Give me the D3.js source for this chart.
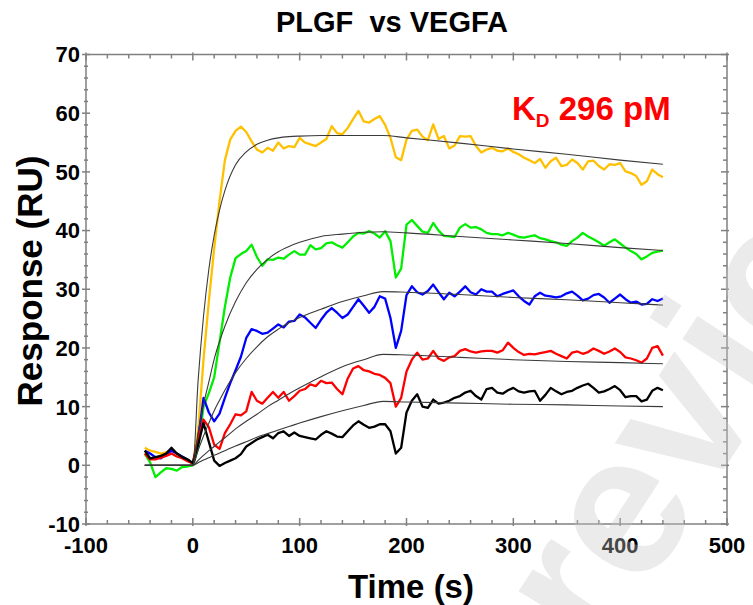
<!DOCTYPE html>
<html>
<head>
<meta charset="utf-8">
<script src="https://cdn.jsdelivr.net/npm/d3@7"></script>
<style>
  body { margin: 0; background: #fff; }
  svg { display: block; font-family: "Liberation Sans", Arial, sans-serif; }
</style>
</head>
<body>
<svg id="chart" width="753" height="605"></svg>
<script>
// sensorgram sampling times (s)
var times = [-45,-40,-35,-30,-25,-20,-15,-10,-5,0,5,10,15,20,25,30,35,40,45,50,55,60,65,70,75,80,85,90,95,100,
  105,110,115,120,125,130,135,140,145,150,155,160,165,170,175,180,185,190,195,200,205,210,215,220,225,230,235,240,245,250,
  255,260,265,270,275,280,285,290,295,300,305,310,315,320,325,330,335,340,345,350,355,360,365,370,375,380,385,390,395,400,
  405,410,415,420,425,430,435,440];

// responses (RU)
var yellowRU = [3.0,2.5,2.3,2.0,2.2,2.6,2.0,1.5,1.0,0.3,6,18,28,37,45,52,55.5,57,57.7,56.8,55.2,53.8,53.3,54.1,53.6,55.0,54.0,54.4,54.2,55.8,
  55.0,54.7,54.4,55.0,55.6,57.8,56.6,56.4,57.5,59.0,60.4,58.6,58.4,59.0,59.5,58.0,55.8,52.5,52.0,55.5,57.0,57.2,56.0,55.4,58.1,55.6,56.1,54.0,54.5,56.1,
  56.0,56.1,54.4,53.3,53.8,54.1,53.6,53.5,54.0,53.4,53.0,52.4,52.0,51.5,52.2,50.7,51.8,52.4,51.0,51.2,52.1,51.5,50.4,51.8,51.9,51.0,50.4,51.3,51.2,51.5,
  50.1,49.8,49.3,47.8,48.4,50.4,49.6,49.1];
var greenRU = [2.0,0.5,-2.0,-1.2,-0.5,-0.6,-0.9,-0.3,-0.2,0.0,3,10,12.3,15,21,27,32,35.3,36.0,36.5,37.6,35.5,34.0,35.1,35.0,35.4,35.2,35.9,36.5,35.9,
  35.9,37.5,36.8,37.0,37.8,38.0,37.5,37.1,38.0,39.0,39.6,39.5,39.9,39.5,38.8,39.9,38.2,32.0,33.5,41.0,41.8,40.8,39.8,39.6,41.3,40.0,39.1,39.0,38.9,40.5,
  41.1,40.5,40.6,40.2,39.6,39.4,39.4,39.2,39.6,39.3,38.9,38.8,39.0,39.2,38.7,38.5,38.2,38.0,37.6,37.4,38.2,38.8,39.6,39.0,38.5,38.0,37.4,38.0,38.5,37.8,
  37.1,36.5,36.0,35.1,35.6,36.2,36.4,36.6];
var blueRU = [2.5,2.0,1.4,1.2,1.8,2.5,2.0,1.5,1.0,0.3,4.5,11.5,9.0,7.5,8.8,11.5,14.0,16.2,18.5,21.7,23.2,22.9,22.4,22.6,23.3,24.0,23.5,24.5,24.6,25.7,
  25.2,24.3,23.4,24.8,26.0,26.8,26.0,25.1,25.7,27.0,28.3,27.2,26.0,27.0,28.8,28.4,25.1,20.0,22.9,29.0,30.5,29.5,29.1,29.7,30.8,29.5,28.3,29.4,28.8,29.6,
  30.5,29.5,29.1,30.0,29.6,29.6,28.8,29.2,29.5,29.8,28.8,28.0,27.4,28.8,29.4,28.9,28.8,28.6,28.8,29.3,29.6,28.9,28.1,28.4,29.0,29.2,28.6,27.7,28.4,29.1,
  28.3,27.7,27.9,27.4,27.5,28.3,28.0,28.4];
var redRU = [2.0,1.0,1.0,1.3,1.6,2.0,1.5,1.2,0.7,0.3,4.5,7.8,6.5,3.5,2.8,5.5,7.0,8.7,8.5,9.2,12.5,11.0,10.5,11.5,12.5,11.5,12.5,11.0,11.8,12.7,
  13.0,13.8,13.5,14.4,14.0,14.1,13.0,12.1,14.8,16.5,16.9,16.2,16.0,15.6,15.4,14.9,14.0,10.0,11.5,16.0,18.0,19.2,18.0,18.2,19.5,18.2,17.8,18.4,18.6,19.5,
  19.8,19.4,19.2,19.4,19.5,19.5,19.2,19.6,20.9,20.0,19.3,18.8,19.0,18.9,19.1,19.3,19.5,19.0,18.6,18.2,19.2,19.4,19.0,19.3,19.9,19.5,19.0,19.4,19.9,19.3,
  18.4,18.2,17.9,17.5,18.2,20.0,20.3,18.7];
var blackRU = [2.5,1.2,1.4,1.6,2.0,3.0,2.0,1.4,1.0,0.4,3.5,7.2,4.0,0.8,-0.1,0.4,0.8,1.2,1.9,3.2,3.8,4.4,4.8,5.2,4.6,5.5,5.8,5.0,5.6,5.0,
  4.8,4.6,4.4,5.2,5.8,5.4,4.9,4.8,5.8,6.8,7.5,6.9,6.4,6.6,7.0,7.0,5.8,2.0,3.0,9.0,11.0,12.1,10.0,9.8,11.2,10.5,10.7,11.0,11.5,11.8,
  12.4,12.7,11.8,11.2,13.0,13.2,12.4,12.2,12.8,13.2,12.6,12.4,12.6,12.7,11.0,12.0,13.2,12.6,12.1,12.5,12.7,13.2,13.6,13.9,13.2,12.4,12.6,13.0,13.5,12.8,
  11.6,11.8,11.8,10.9,11.2,12.7,13.2,12.8];

// fitted curves (1:1 model)
var fitTimes = [-45,0,5,10,15,20,25,30,40,50,60,70,80,90,100,120,140,160,178,200,250,300,350,400,440];
var yellowFit = [0,0,14.6,25.4,33.4,39.2,43.5,46.8,51.2,53.4,54.7,55.4,55.8,56.0,56.1,56.2,56.2,56.2,56.2,55.8,54.9,53.9,53.0,52.0,51.3];
var greenFit  = [0,0,5.6,10.4,14.2,18.1,21.1,23.7,27.9,31.1,33.4,35.1,36.4,37.3,38.0,39.0,39.4,39.7,39.8,39.6,39.0,38.4,37.8,37.1,36.6];
var blueFit   = [0,0,2.6,5.0,7.2,9.3,11.1,12.8,15.8,18.2,20.2,21.9,23.2,24.3,25.2,26.6,27.9,28.9,29.6,29.5,29.1,28.6,28.2,27.7,27.3];
var redFit    = [0,0,0.85,1.7,2.5,3.2,4.0,4.7,6.2,7.5,8.7,10.0,11.1,12.2,13.2,15.1,16.8,18.0,18.9,18.8,18.4,18.0,17.7,17.5,17.3];
var blackFit  = [0,0,0.45,0.9,1.3,1.7,2.1,2.5,3.3,4.0,4.8,5.4,6.0,6.6,7.2,8.3,9.3,10.2,10.9,10.8,10.6,10.4,10.3,10.1,10.0];

var xTicks = [-100,0,100,200,300,400,500];
var yTicks = [-10,0,10,20,30,40,50,60,70];

var svg = d3.select('#chart');
var x = d3.scaleLinear().domain([-100, 500]).range([86, 727]);
var y = d3.scaleLinear().domain([-10, 70]).range([524, 54.5]);

var axisColor = '#808080';

// Data curves
var series = [
  {vals: yellowRU, color: '#ffc000'},
  {vals: greenRU,  color: '#00ee00'},
  {vals: blueRU,   color: '#0000ff'},
  {vals: redRU,    color: '#ff0000'},
  {vals: blackRU,  color: '#000000'}
];
var line = d3.line().x(function(d){ return x(d[0]); }).y(function(d){ return y(d[1]); });

series.forEach(function(s){
  svg.append('path')
    .attr('d', line(times.map(function(t, i){ return [t, s.vals[i]]; })))
    .attr('fill', 'none')
    .attr('stroke', s.color)
    .attr('stroke-width', 2.3)
    .attr('stroke-linejoin', 'round');
});

// Fits on top
var fitLine = d3.line().curve(d3.curveMonotoneX)
  .x(function(d){ return x(d[0]); }).y(function(d){ return y(d[1]); });
[yellowFit, greenFit, blueFit, redFit, blackFit].forEach(function(f){
  svg.append('path')
    .attr('d', fitLine(fitTimes.map(function(t, i){ return [t, f[i]]; })))
    .attr('fill', 'none')
    .attr('stroke', '#3a3a3a')
    .attr('stroke-width', 1.1);
});

// Frame with ticks on all four sides
var xMinor = d3.range(-100, 501, 20), yMinor = d3.range(-10, 71, 2);
var frame = svg.append('g').attr('stroke', axisColor).attr('stroke-width', 1.5);
frame.append('rect')
  .attr('x', x(-100)).attr('y', y(70))
  .attr('width', x(500) - x(-100)).attr('height', y(-10) - y(70))
  .attr('fill', 'none');

xMinor.forEach(function(v){
  var major = xTicks.indexOf(v) >= 0;
  frame.append('line').attr('x1', x(v)).attr('x2', x(v))
    .attr('y1', y(-10) + (major ? 2 : 0)).attr('y2', y(-10) - (major ? 6 : 4));
  frame.append('line').attr('x1', x(v)).attr('x2', x(v))
    .attr('y1', y(70) - (major ? 2 : 0)).attr('y2', y(70) + (major ? 6 : 4));
});
yMinor.forEach(function(v){
  var major = yTicks.indexOf(v) >= 0;
  frame.append('line').attr('y1', y(v)).attr('y2', y(v))
    .attr('x1', x(-100) - (major ? 4 : 2)).attr('x2', x(-100) + (major ? 4 : 2));
  frame.append('line').attr('y1', y(v)).attr('y2', y(v))
    .attr('x1', x(500) + (major ? 2 : 0)).attr('x2', x(500) - (major ? 6 : 4));
});

// Tick labels
svg.append('g').selectAll('text').data(xTicks).enter().append('text')
  .attr('x', function(d){ return x(d); })
  .attr('y', 553)
  .attr('text-anchor', 'middle')
  .attr('font-size', 22).attr('font-weight', 'bold')
  .text(function(d){ return d; });

svg.append('g').selectAll('text').data(yTicks).enter().append('text')
  .attr('x', 80)
  .attr('y', function(d){ return y(d); })
  .attr('dy', '0.36em')
  .attr('text-anchor', 'end')
  .attr('font-size', 22).attr('font-weight', 'bold')
  .text(function(d){ return d; });

// Titles
svg.append('text')
  .attr('x', 392).attr('y', 32)
  .attr('text-anchor', 'middle')
  .attr('font-size', 29).attr('font-weight', 'bold')
  .attr('xml:space', 'preserve')
  .text('PLGF  vs VEGFA');

svg.append('text')
  .attr('x', 411).attr('y', 598)
  .attr('text-anchor', 'middle')
  .attr('font-size', 33).attr('font-weight', 'bold')
  .text('Time (s)');

svg.append('text')
  .attr('transform', 'translate(42,281) rotate(-90)')
  .attr('text-anchor', 'middle')
  .attr('font-size', 35).attr('font-weight', 'bold')
  .text('Response (RU)');

// KD annotation
var kd = svg.append('text')
  .attr('x', 512).attr('y', 120)
  .attr('fill', '#ff0000')
  .attr('font-size', 33).attr('font-weight', 'bold');
kd.append('tspan').text('K');
kd.append('tspan').attr('font-size', 19).attr('dy', 7).text('D');
kd.append('tspan').attr('dy', -7).text(' 296 pM');

// faint watermark
svg.append('text')
  .attr('transform', 'translate(600,660) rotate(-57)')
  .attr('font-size', 200)
  .attr('font-weight', 'bold')
  .attr('fill', '#c8c8c8')
  .attr('opacity', 0.35)
  .text('review');
</script>
</body>
</html>
